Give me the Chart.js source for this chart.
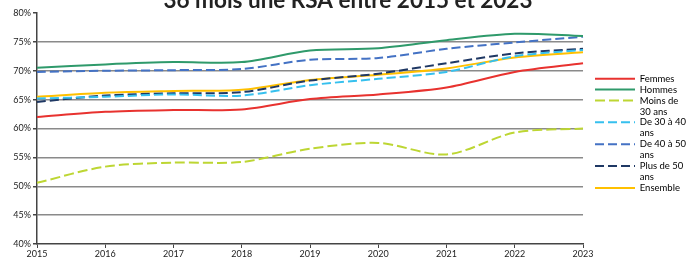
<!DOCTYPE html>
<html>
<head>
<meta charset="utf-8">
<script src="https://cdn.jsdelivr.net/npm/chart.js@4.4.1/dist/chart.umd.min.js"></script>
<style>
  html, body { margin: 0; padding: 0; background: #fff; }
  #wrap { width: 693px; height: 261px; position: relative; }
</style>
</head>
<body>
<div id="wrap"><canvas id="chart"></canvas></div>
<script>
const years = ['2015', '2016', '2017', '2018', '2019', '2020', '2021', '2022', '2023'];
const femmes   = [62.0, 62.9, 63.2, 63.3, 65.1, 65.9, 67.1, 69.8, 71.3];
const hommes   = [70.5, 71.1, 71.5, 71.5, 73.5, 73.9, 75.3, 76.4, 76.0];
const moins30  = [50.6, 53.4, 54.1, 54.2, 56.5, 57.5, 55.5, 59.3, 60.0];
const de30a40  = [65.2, 65.5, 65.9, 65.7, 67.5, 68.6, 69.8, 72.5, 73.6];
const de40a50  = [69.8, 70.0, 70.1, 70.3, 71.9, 72.2, 73.8, 74.9, 75.9];
const plus50   = [64.6, 65.7, 66.1, 66.3, 68.3, 69.5, 71.3, 73.0, 73.8];
const ensemble = [65.5, 66.2, 66.5, 66.7, 68.4, 69.3, 70.4, 72.3, 73.2];
const yTicks = [40, 45, 50, 55, 60, 65, 70, 75, 80];

const titleText = '36 mois une RSA entre 2015 et 2023';

// titre coupé en haut de l'image
const cutTitle = {
    id: 'cutTitle',
    afterDraw(chart) {
        const ctx = chart.ctx;
        ctx.save();
        ctx.font = 'bold 22.5px Lato';
        ctx.fillStyle = '#222';
        ctx.textAlign = 'center';
        ctx.textBaseline = 'alphabetic';
        ctx.fillText(titleText, 348, 8);
        ctx.restore();
    }
};

// décale la légende un peu à droite du graphique
const legendShift = {
    id: 'legendShift',
    afterLayout(chart) {
        const lg = chart.legend;
        if (!lg) return;
        const dx = 595 - lg.left;
        lg.left += dx;
        lg.right += dx;
        lg.top -= 3;
        lg.bottom -= 3;
    }
};

function serie(label, data, color, dash) {
    return {
        label: label,
        data: data,
        borderColor: color,
        backgroundColor: color,
        borderWidth: 2,
        borderDash: dash || [],
        pointRadius: 0,
        tension: 0.3,
        fill: false
    };
}

new Chart(document.getElementById('chart'), {
    type: 'line',
    data: {
        labels: years,
        datasets: [
            serie('Femmes', femmes, '#e8322f'),
            serie('Hommes', hommes, '#2f9a6b'),
            serie('Moins de\n30 ans', moins30, '#bdd633', [10, 4]),
            serie('De 30 à 40\nans', de30a40, '#36c0ee', [9, 4]),
            serie('De 40 à 50\nans', de40a50, '#4472c4', [9, 4]),
            serie('Plus de 50\nans', plus50, '#1f3864', [9, 4]),
            serie('Ensemble', ensemble, '#ffc000')
        ]
    },
    options: {
        responsive: true,
        maintainAspectRatio: false,
        animation: false,
        layout: {
            padding: {top: 13, right: 9, bottom: 0, left: 0}
        },
        plugins: {
            title: {display: false},
            tooltip: {enabled: false},
            legend: {
                position: 'right',
                align: 'center',
                labels: {
                    usePointStyle: true,
                    pointStyleWidth: 40,
                    boxHeight: 9,
                    padding: 0,
                    color: '#222',
                    font: {family: 'Lato', size: 9.5, lineHeight: 1.15},
                    generateLabels(chart) {
                        return chart.data.datasets.map((ds, i) => ({
                            text: ds.label.split('\n'),
                            fillStyle: ds.borderColor,
                            strokeStyle: ds.borderColor,
                            lineWidth: 2,
                            lineDash: ds.borderDash,
                            pointStyle: 'line',
                            datasetIndex: i,
                            hidden: false
                        }));
                    }
                }
            }
        },
        scales: {
            x: {
                type: 'category',
                offset: false,
                afterFit(scale) { scale.height = 17; },
                grid: {
                    display: true,
                    drawOnChartArea: false,
                    drawTicks: true,
                    tickLength: 4,
                    tickColor: '#444'
                },
                border: {color: '#444', width: 1.5},
                ticks: {
                    color: '#222',
                    padding: 1,
                    maxRotation: 0,
                    font: {family: 'Lato', size: 9}
                }
            },
            y: {
                min: 40,
                max: 80,
                afterFit(scale) { scale.width = 37; },
                afterBuildTicks(scale) {
                    scale.ticks = yTicks.map(v => ({value: v}));
                },
                grid: {
                    color(ctx) {
                        const v = ctx.tick && ctx.tick.value;
                        return (v === 40 || v === 80) ? 'rgba(0,0,0,0)' : '#8a8a8a';
                    },
                    lineWidth: 1.5,
                    tickLength: 4,
                    tickColor: '#444'
                },
                border: {color: '#444', width: 1.5},
                ticks: {
                    color: '#222',
                    padding: 2,
                    font: {family: 'Lato', size: 9},
                    callback: v => v + '%'
                }
            }
        }
    },
    plugins: [cutTitle, legendShift]
});
</script>
</body>
</html>
